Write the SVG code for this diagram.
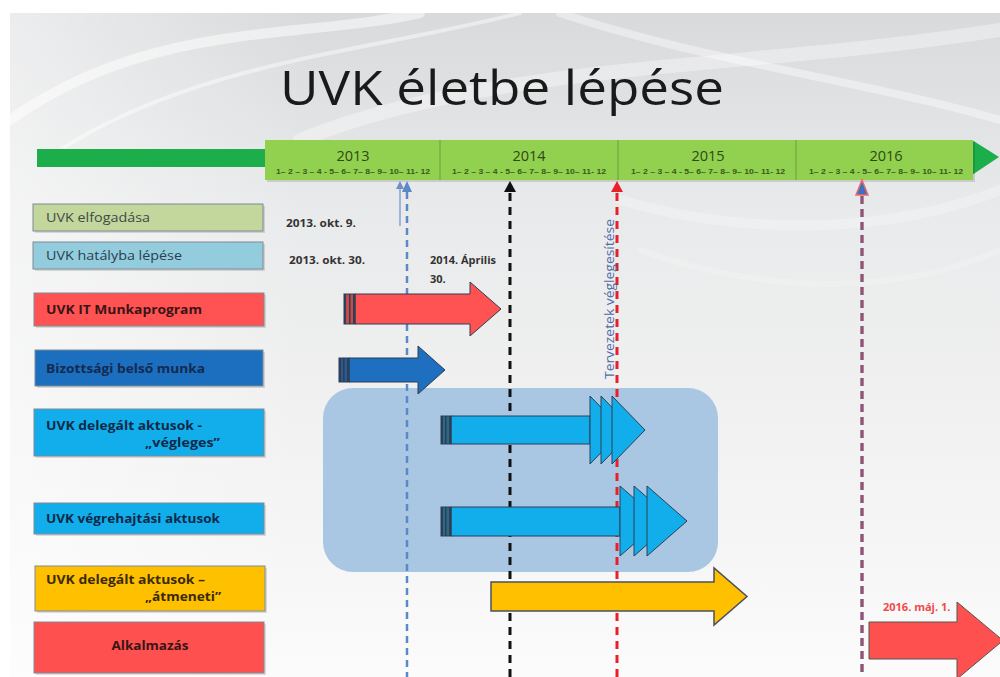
<svg xmlns="http://www.w3.org/2000/svg" width="1000" height="677" viewBox="0 0 1000 677">
<defs>
<linearGradient id="bg" x1="0" y1="0" x2="0" y2="1">
<stop offset="0" stop-color="#d9dadc"/>
<stop offset="0.3" stop-color="#e9eaeb"/>
<stop offset="0.7" stop-color="#f3f3f3"/>
<stop offset="1" stop-color="#fbfbfb"/>
</linearGradient>
<linearGradient id="bgL" x1="0" y1="0" x2="1" y2="0">
<stop offset="0" stop-color="#ffffff" stop-opacity="0.5"/>
<stop offset="0.3" stop-color="#ffffff" stop-opacity="0"/>
</linearGradient>
<style>
.lbl{font-family:"Open Sans","Liberation Sans",sans-serif;font-size:12.5px;}
.b{font-weight:bold;}
.box{stroke:#7f8a96;stroke-width:1;}
.shadow{fill:#000;opacity:0.12;}
.yr{font-family:"Open Sans","Liberation Sans",sans-serif;font-size:14.5px;fill:#2c4a12;text-anchor:middle;}
.mo{font-family:"Liberation Sans",sans-serif;font-size:7px;font-weight:bold;fill:#3a5a1a;text-anchor:middle;}
.date{font-family:"Open Sans","Liberation Sans",sans-serif;font-size:11px;font-weight:bold;fill:#333;}
.arr{stroke:#2d3e55;stroke-width:1;}
.stripe{fill:#2d3e55;}
</style>
</defs>
<rect width="1000" height="677" fill="#ffffff"/>
<rect x="10" y="13" width="990" height="664" fill="url(#bg)"/>
<rect x="10" y="13" width="990" height="664" fill="url(#bgL)"/>
<g fill="none" stroke="#ffffff" stroke-linecap="round">
<path d="M10,120 C150,20 300,40 420,13" stroke-width="10" opacity="0.5"/>
<path d="M60,150 C200,60 380,50 520,13" stroke-width="4" opacity="0.45"/>
<path d="M300,140 C500,60 750,70 1000,30" stroke-width="14" opacity="0.35"/>
<path d="M560,13 C700,60 860,80 1000,120" stroke-width="8" opacity="0.4"/>
<path d="M620,200 C760,240 900,230 1000,190" stroke-width="10" opacity="0.25"/>
<path d="M640,250 C780,300 910,290 1000,250" stroke-width="6" opacity="0.2"/>
</g>

<g id="title">
<text x="502" y="105" text-anchor="middle" font-family="'Open Sans','Liberation Sans',sans-serif" font-size="48" fill="#1a1a1a" textLength="444" lengthAdjust="spacingAndGlyphs">UVK életbe lépése</text>
</g>

<g id="timeline">
<rect x="37" y="149" width="230" height="18" fill="#1bae4b"/>
<polygon points="972,140 999,157 972,175" fill="#1bae4b"/>
<rect x="267" y="142" width="708" height="40" class="shadow"/>
<rect x="265" y="140" width="708" height="40" fill="#92d050"/>
<g stroke="#6f9c3a" stroke-width="1">
<line x1="440" y1="140" x2="440" y2="180"/>
<line x1="618" y1="140" x2="618" y2="180"/>
<line x1="796" y1="140" x2="796" y2="180"/>
</g>
<text class="yr" x="353" y="161">2013</text>
<text class="yr" x="529" y="161">2014</text>
<text class="yr" x="708" y="161">2015</text>
<text class="yr" x="886" y="161">2016</text>
<text class="mo" x="353" y="174" textLength="154" lengthAdjust="spacingAndGlyphs">1– 2 – 3 – 4 - 5– 6– 7– 8– 9– 10– 11- 12</text>
<text class="mo" x="529" y="174" textLength="154" lengthAdjust="spacingAndGlyphs">1– 2 – 3 – 4 - 5– 6– 7– 8– 9– 10– 11- 12</text>
<text class="mo" x="708" y="174" textLength="154" lengthAdjust="spacingAndGlyphs">1– 2 – 3 – 4 - 5– 6– 7– 8– 9– 10– 11- 12</text>
<text class="mo" x="886" y="174" textLength="154" lengthAdjust="spacingAndGlyphs">1– 2 – 3 – 4 - 5– 6– 7– 8– 9– 10– 11- 12</text>
</g>

<g id="highlight">
<rect x="323" y="388" width="395" height="184" rx="30" ry="30" fill="#a9c7e2"/>
</g>

<g id="connectors">
<line x1="407" y1="192" x2="407" y2="677" stroke="#5b88c8" stroke-width="2.5" stroke-dasharray="7,5"/>
<polygon points="407,181 402,192 412,192" fill="#5b88c8"/>
<line x1="400" y1="186" x2="400" y2="226" stroke="#6f8fc8" stroke-width="1.2"/>
<polygon points="400,181 396,189 404,189" fill="#6f8fc8"/>
<line x1="510" y1="193" x2="510" y2="677" stroke="#111" stroke-width="3" stroke-dasharray="8,6"/>
<polygon points="510,181 504,192 516,192" fill="#111"/>
<line x1="617" y1="193" x2="617" y2="677" stroke="#e8202a" stroke-width="3" stroke-dasharray="8,6"/>
<polygon points="617,181 611,192 623,192" fill="#e8202a"/>
<line x1="862" y1="196" x2="862" y2="677" stroke="#f06a6a" stroke-width="4" stroke-dasharray="8,5"/>
<line x1="862" y1="196" x2="862" y2="677" stroke="#4a6ea8" stroke-width="2" stroke-dasharray="8,5"/>
<polygon points="862,180 856,195 868,195" fill="#3f6fc0" stroke="#f06a6a" stroke-width="1.5"/>
<text transform="translate(614,379) rotate(-90)" font-family="'Open Sans','Liberation Sans',sans-serif" font-size="12.5" fill="#4f6aa8" textLength="160" lengthAdjust="spacingAndGlyphs">Tervezetek véglegesítése</text>
</g>

<g id="dates">
<text class="date" x="286" y="227" textLength="70" lengthAdjust="spacingAndGlyphs">2013. okt. 9.</text>
<text class="date" x="289" y="264" textLength="76" lengthAdjust="spacingAndGlyphs">2013. okt. 30.</text>
<text class="date" x="430" y="264" textLength="66" lengthAdjust="spacingAndGlyphs">2014. Április</text>
<text class="date" x="430" y="283">30.</text>
<text x="883" y="611" font-family="'Open Sans','Liberation Sans',sans-serif" font-size="11" font-weight="bold" fill="#f04a4a">2016. máj. 1.</text>
</g>

<g id="n1">
<rect x="35" y="206" width="230" height="27" class="shadow"/>
<rect x="33" y="204" width="230" height="27" fill="#c3d69b" class="box"/>
<text class="lbl" x="46" y="222" fill="#3c4a4a" textLength="104" lengthAdjust="spacingAndGlyphs">UVK elfogadása</text>
</g>
<g id="n2">
<rect x="35" y="244" width="230" height="27" class="shadow"/>
<rect x="33" y="242" width="230" height="27" fill="#93cddd" class="box"/>
<text class="lbl" x="46" y="260" fill="#2a4050" textLength="136" lengthAdjust="spacingAndGlyphs">UVK hatályba lépése</text>
</g>
<g id="n3">
<rect x="36" y="295" width="230" height="33" class="shadow"/>
<rect x="34" y="293" width="230" height="33" fill="#ff5353" class="box"/>
<text class="lbl b" x="46" y="314" fill="#3a1515" textLength="156" lengthAdjust="spacingAndGlyphs">UVK IT Munkaprogram</text>
</g>
<g id="n4">
<rect x="37" y="352" width="228" height="36" class="shadow"/>
<rect x="35" y="350" width="228" height="36" fill="#1c6ebf" class="box"/>
<text class="lbl b" x="46" y="373" fill="#142a50" textLength="159" lengthAdjust="spacingAndGlyphs">Bizottsági belső munka</text>
</g>
<g id="n5">
<rect x="36" y="411" width="230" height="47" class="shadow"/>
<rect x="34" y="409" width="230" height="47" fill="#12aeec" class="box"/>
<text class="lbl b" x="46" y="430" fill="#0f2a48" textLength="156" lengthAdjust="spacingAndGlyphs">UVK delegált aktusok -</text>
<text class="lbl b" x="145" y="447" fill="#0f2a48" textLength="75" lengthAdjust="spacingAndGlyphs">„végleges”</text>
</g>
<g id="n6">
<rect x="36" y="505" width="230" height="31" class="shadow"/>
<rect x="34" y="503" width="230" height="31" fill="#12aeec" class="box"/>
<text class="lbl b" x="46" y="523" fill="#0f2a48" textLength="174" lengthAdjust="spacingAndGlyphs">UVK végrehajtási aktusok</text>
</g>
<g id="n7">
<rect x="37" y="568" width="230" height="45" class="shadow"/>
<rect x="35" y="566" width="230" height="45" fill="#ffc000" class="box"/>
<text class="lbl b" x="46" y="584" fill="#3a2a08" textLength="159" lengthAdjust="spacingAndGlyphs">UVK delegált aktusok –</text>
<text class="lbl b" x="145" y="601" fill="#3a2a08" textLength="76" lengthAdjust="spacingAndGlyphs">„átmeneti”</text>
</g>
<g id="n8">
<rect x="36" y="624" width="230" height="51" class="shadow"/>
<rect x="34" y="622" width="230" height="51" fill="#ff5050" class="box"/>
<text class="lbl b" x="150" y="650" text-anchor="middle" fill="#3a1515" textLength="77" lengthAdjust="spacingAndGlyphs">Alkalmazás</text>
</g>

<g id="a3">
<path class="arr" d="M355,294 H470 V282 L501,309 L470,336 V324 H355 Z" fill="#ff5353"/>
<rect x="344" y="294" width="11" height="30" fill="#c94a4a" class="arr"/>
<rect x="344" y="294" width="2" height="30" class="stripe"/>
<rect x="349" y="294" width="1.5" height="30" class="stripe"/>
<rect x="353" y="294" width="2" height="30" class="stripe"/>
</g>
<g id="a4">
<path class="arr" d="M349,358 H418 V346 L445,370 L418,394 V382 H349 Z" fill="#1f6fc0"/>
<rect x="339" y="358" width="10" height="24" fill="#2a5a90" class="arr"/>
<rect x="339" y="358" width="2" height="24" class="stripe"/>
<rect x="343" y="358" width="1.5" height="24" class="stripe"/>
<rect x="347" y="358" width="2" height="24" class="stripe"/>
</g>
<g id="a5">
<path class="arr" d="M451,416 H590 V444 H451 Z" fill="#12aeec"/>
<polygon class="arr" points="590,396 623,430 590,464" fill="#12aeec"/>
<polygon class="arr" points="601,396 634,430 601,464" fill="#12aeec"/>
<polygon class="arr" points="612,396 645,430 612,464" fill="#12aeec"/>
<rect x="441" y="416" width="10" height="28" fill="#2a6a8a" class="arr"/>
<rect x="441" y="416" width="2" height="28" class="stripe"/>
<rect x="445" y="416" width="1.5" height="28" class="stripe"/>
<rect x="449" y="416" width="2" height="28" class="stripe"/>
</g>
<g id="a6">
<path class="arr" d="M451,507 H620 V536 H451 Z" fill="#12aeec"/>
<polygon class="arr" points="620,486 660,521 620,556" fill="#12aeec"/>
<polygon class="arr" points="634,486 674,521 634,556" fill="#12aeec"/>
<polygon class="arr" points="647,486 687,521 647,556" fill="#12aeec"/>
<rect x="441" y="507" width="10" height="29" fill="#2a6a8a" class="arr"/>
<rect x="441" y="507" width="2" height="29" class="stripe"/>
<rect x="445" y="507" width="1.5" height="29" class="stripe"/>
<rect x="449" y="507" width="2" height="29" class="stripe"/>
</g>
<g id="a7">
<path d="M491,582 H714 V568 L747,596.5 L714,625 V611 H491 Z" fill="#ffc000" stroke="#4a5060" stroke-width="1.5"/>
</g>
<g id="a8">
<path d="M869,622 H957 V602 L1003,640.5 L957,679 V659 H869 Z" fill="#ff5050" stroke="#555" stroke-width="1"/>
</g>
</svg>
